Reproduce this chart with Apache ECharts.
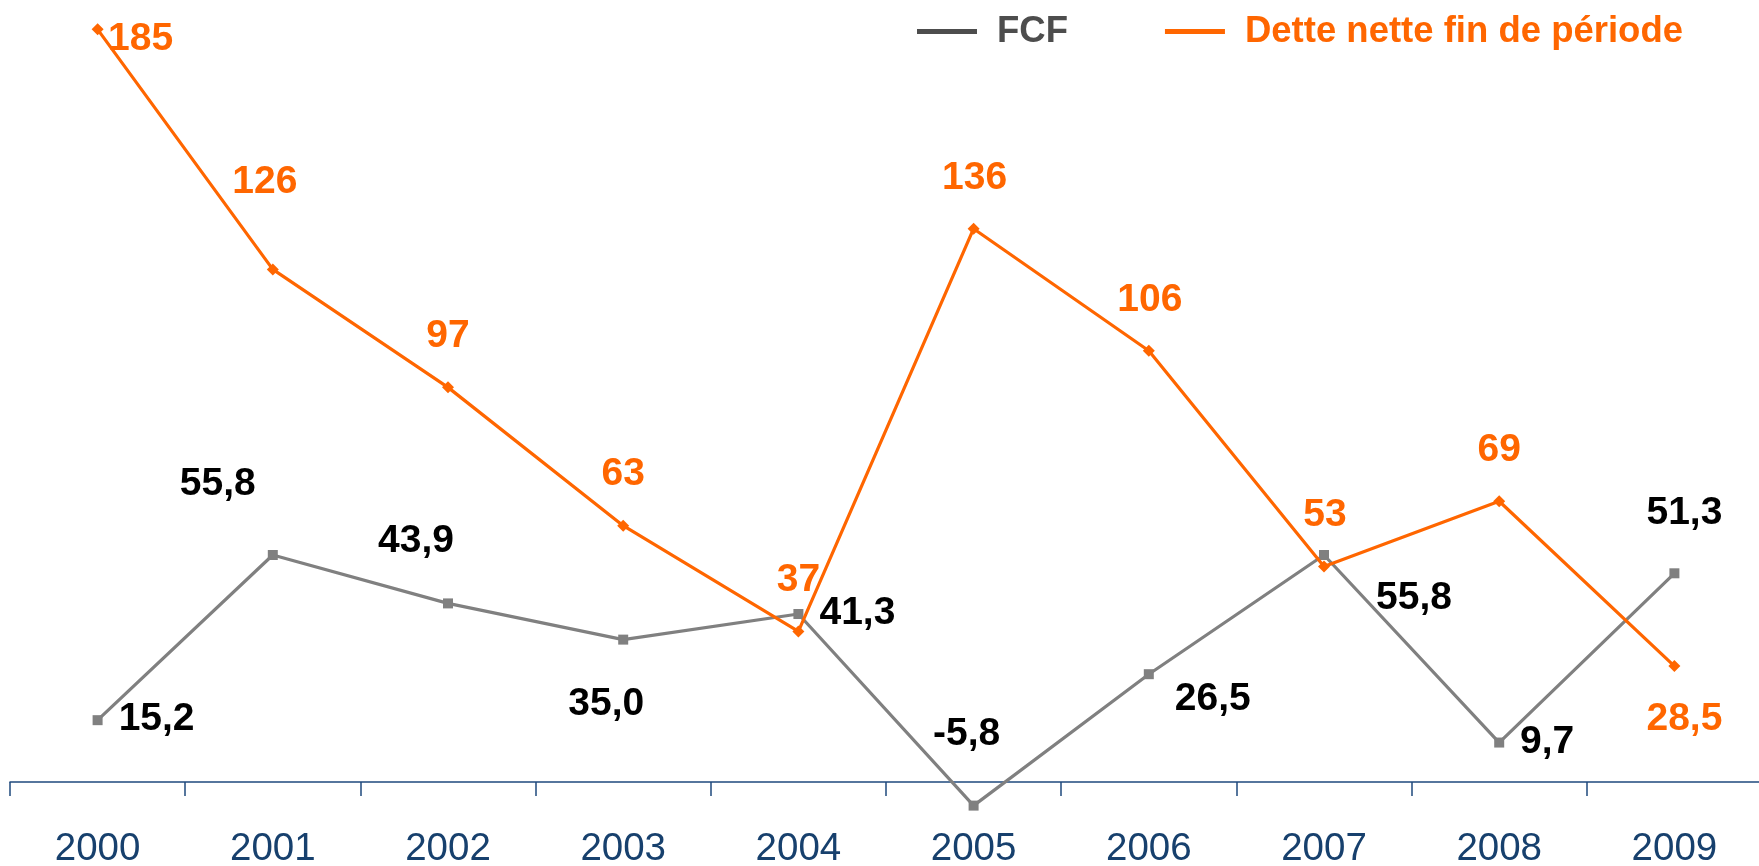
<!DOCTYPE html>
<html>
<head>
<meta charset="utf-8">
<script src="https://cdn.jsdelivr.net/npm/echarts@6/dist/echarts.min.js"></script>
<style>
html,body{margin:0;padding:0;background:#fff;}
#chart{width:1759px;height:866px;}
</style>
</head>
<body>
<div id="chart"></div>
<script>
const categories = ['2000','2001','2002','2003','2004','2005','2006','2007','2008','2009'];
const seriesNames = ['FCF', 'Dette nette fin de période'];
const fcf = [15.2, 55.8, 43.9, 35.0, 41.3, -5.8, 26.5, 55.8, 9.7, 51.3];
const dette = [185, 126, 97, 63, 37, 136, 106, 53, 69, 28.5];
// label placement (pixel offsets from each marker)
const fcfLabelOffsets = [[59,-1],[-55,-71],[-32,-62],[-17,65],[59,-1],[-7,-71],[64,25],[90,43],[48,0],[10,-60]];
const detteLabelOffsets = [[43,10],[-8,-87],[0,-51],[0,-51],[0,-51],[1,-50],[1,-51],[1,-51],[0,-51],[10,53]];

const FONT = '"Liberation Sans", Arial, Helvetica, sans-serif';
const GRAY = '#808080', ORANGE = '#FF6600', NAVY = '#1F497D';

function fmtFcf(v){ return v.toFixed(1).replace('.', ','); }
function fmtDette(v){ return String(v).replace('.', ','); }

const chart = echarts.init(document.getElementById('chart'));
chart.setOption({
  animation: false,
  backgroundColor: '#ffffff',
  grid: { left: 10, right: -3, top: 9, bottom: 43.3, containLabel: false, outerBoundsMode: 'none' },
  legend: {
    left: 917, top: 13, padding: 0,
    icon: 'rect', itemWidth: 60, itemHeight: 5, itemGap: 97,
    textStyle: { fontSize: 36.5, fontWeight: 'bold', fontFamily: FONT, padding: [0,0,0,15] },
    data: [
      { name: seriesNames[0], itemStyle: { color: '#4d4d4d' }, textStyle: { color: '#4d4d4d' } },
      { name: seriesNames[1], itemStyle: { color: ORANGE }, textStyle: { color: ORANGE } }
    ]
  },
  xAxis: {
    type: 'category', data: categories, boundaryGap: true,
    axisLine: { onZero: true, lineStyle: { color: NAVY, width: 1.5 } },
    axisTick: { show: true, length: 14, lineStyle: { color: NAVY, width: 1.5 } },
    axisLabel: { color: '#17406D', fontSize: 38.5, fontFamily: FONT, margin: 7 },
    splitLine: { show: false }
  },
  yAxis: {
    type: 'value', min: -10, max: 190, show: false, splitLine: { show: false }
  },
  series: [
    {
      name: seriesNames[0], type: 'line', z: 2,
      data: fcf.map((v, i) => ({ value: v, label: { offset: fcfLabelOffsets[i] } })),
      symbol: 'rect', symbolSize: 10,
      itemStyle: { color: GRAY },
      lineStyle: { color: GRAY, width: 3.2 },
      label: {
        show: true, position: 'inside', align: 'center', verticalAlign: 'middle',
        color: '#000', fontSize: 39, fontWeight: 'bold', fontFamily: FONT,
        formatter: p => fmtFcf(p.value)
      }
    },
    {
      name: seriesNames[1], type: 'line', z: 3,
      data: dette.map((v, i) => ({ value: v, label: { offset: detteLabelOffsets[i] } })),
      symbol: 'diamond', symbolSize: 12,
      itemStyle: { color: ORANGE },
      lineStyle: { color: ORANGE, width: 3.2 },
      label: {
        show: true, position: 'inside', align: 'center', verticalAlign: 'middle',
        color: ORANGE, fontSize: 39, fontWeight: 'bold', fontFamily: FONT,
        formatter: p => fmtDette(p.value)
      }
    }
  ]
});
</script>
</body>
</html>
